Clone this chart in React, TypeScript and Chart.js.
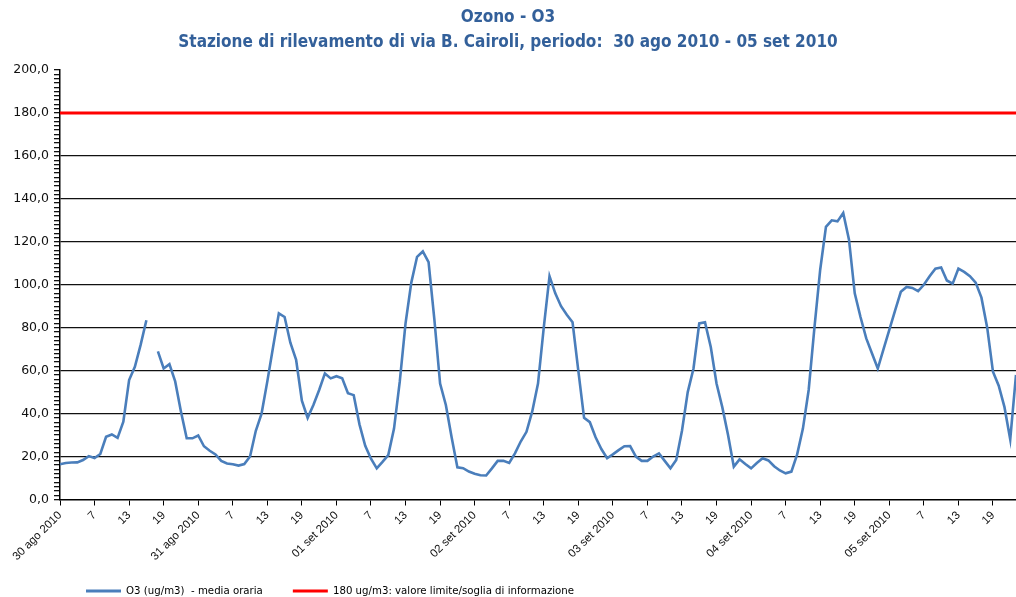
import React, { useEffect, useRef } from 'react';
import { Chart, registerables } from 'chart.js';

Chart.register(...registerables);

// ---- Data ----
const dayLabels = ['30 ago 2010', '31 ago 2010', '01 set 2010', '02 set 2010', '03 set 2010', '04 set 2010', '05 set 2010'];
const hourLabels = ['7', '13', '19'];

// Hourly O3 (ug/m3), one array per day (hour 1..24)
const day30ago = [16.4, 17, 17.2, 17.3, 18.4, 20.2, 19.3, 21.2, 29.2, 30.3, 28.7, 36.2, 55.6, 61.8, 72, 83.5, null, 69, 61, 63, 55, 41, 28.5, 28.5];
const day31ago = [29.8, 24.8, 22.7, 21, 18, 16.8, 16.4, 15.8, 16.5, 20, 32, 40, 55, 71, 86.7, 85, 73, 65, 46, 38, 44, 51, 58.7, 56.4];
const day01set = [57.4, 56.5, 49.5, 48.6, 35, 25, 19, 14.5, 17.5, 20.7, 33, 55, 82, 101, 113, 115.5, 110.5, 84, 54, 44, 29, 15, 14.6, 13];
const day02set = [12, 11.3, 11.2, 14.5, 18, 18, 17, 21.5, 27, 31.5, 41, 54, 80, 104, 96, 90, 86, 82.5, 60, 38, 36, 29, 23.5, 19.2];
const day03set = [21, 23, 24.8, 24.9, 20, 18, 18, 20, 21.5, 18, 14.5, 18.4, 32, 50, 61, 82, 82.5, 71, 54, 43, 30, 15.3, 18.7, 16.5];
const day04set = [14.5, 17, 19.2, 18.2, 15.5, 13.5, 12.2, 13, 21, 33, 51, 80, 107, 127, 130, 129.5, 133.4, 121, 96, 85, 75, 68, 61, 70];
const day05set = [79, 88, 96.7, 99, 98.5, 97, 100, 104, 107.5, 108, 102, 100.5, 107.5, 106, 104, 101, 94, 80, 59.5, 53, 43, 28, 58];

const o3Values: (number | null)[] = [...day30ago, ...day31ago, ...day01set, ...day02set, ...day03set, ...day04set, ...day05set];
const thresholdValue = 180;

const o3Label = 'O3 (ug/m3)  - media oraria';
const thresholdLabel = '180 ug/m3: valore limite/soglia di informazione';
const titleLines = ['Ozono - O3', 'Stazione di rilevamento di via B. Cairoli, periodo:  30 ago 2010 - 05 set 2010'];

const categoryLabels: string[] = o3Values.map((_, i) => {
  const h = i % 24;
  const d = Math.floor(i / 24);
  if (h === 0) return dayLabels[d];
  if (h % 6 === 0) return hourLabels[h / 6 - 1];
  return '';
});

const LEGEND_FONT = 10.2;
const LEGEND_PAD = 30;

// place the legend row: first swatch at x=86, text centred at y=591
const legendShift = {
  id: 'legendShift',
  afterLayout(chart: any) {
    const lg = chart.legend;
    if (lg) {
      const w = lg.right - lg.left;
      lg.left = 86 - LEGEND_PAD;
      lg.right = lg.left + w;
      lg.top = 591 - LEGEND_FONT / 2 - LEGEND_PAD;
      lg.bottom = chart.height + 20;
      lg.height = lg.bottom - lg.top;
    }
  },
};

export default function App() {
  const canvasRef = useRef<HTMLCanvasElement | null>(null);

  useEffect(() => {
    if (!canvasRef.current) return;
    const chart = new Chart(canvasRef.current, {
      type: 'line',
      data: {
        labels: categoryLabels,
        datasets: [
          {
            label: o3Label,
            data: o3Values,
            borderColor: '#4A7EBB',
            backgroundColor: '#4A7EBB',
            borderWidth: 2.6,
            pointRadius: 0,
            tension: 0,
            spanGaps: false,
          },
          {
            label: thresholdLabel,
            data: categoryLabels.map(() => thresholdValue),
            borderColor: '#FF0000',
            backgroundColor: '#FF0000',
            borderWidth: 3,
            pointRadius: 0,
            tension: 0,
          },
        ],
      },
      plugins: [legendShift],
      options: {
        animation: false,
        responsive: true,
        maintainAspectRatio: false,
        layout: { padding: 0 },
        plugins: {
          title: {
            display: true,
            text: titleLines,
            color: '#33609A',
            font: { family: 'DejaVu Sans Condensed', weight: 'bold', size: 17, lineHeight: 25 / 17 },
            padding: { top: 5, bottom: 15 },
          },
          legend: {
            display: true,
            position: 'bottom',
            align: 'start',
            maxHeight: 30,
            labels: {
              boxWidth: 35,
              boxHeight: 3,
              padding: LEGEND_PAD,
              color: '#000',
              font: { family: 'DejaVu Sans', size: LEGEND_FONT },
              generateLabels: (chart: any) => {
                const items = (Chart.defaults.plugins.legend.labels as any).generateLabels(chart);
                return items.map((it: any) => ({ ...it, lineWidth: 0, fillStyle: it.strokeStyle }));
              },
            },
          },
          tooltip: { enabled: false },
        },
        scales: {
          x: {
            type: 'category',
            offset: false,
            afterFit: (scale: any) => {
              scale.height = 67.5;
              scale.paddingLeft = 0;
              scale.paddingRight = 0;
            },
            grid: {
              drawOnChartArea: false,
              drawTicks: true,
              tickLength: 6,
              tickColor: (ctx: any) => (ctx.index % 6 === 0 ? '#000' : 'rgba(0,0,0,0)'),
            },
            border: { color: '#000', width: 1.5 },
            ticks: {
              autoSkip: false,
              maxRotation: 45,
              minRotation: 45,
              padding: 3,
              color: '#111',
              font: { family: 'Liberation Sans', size: 11.5 },
            },
          },
          y: {
            min: 0,
            max: 200,
            afterFit: (scale: any) => {
              scale.width = 60;
            },
            grid: {
              drawTicks: true,
              tickLength: 6,
              lineWidth: 1.3,
              color: (ctx: any) => {
                const v = ctx.tick ? Math.round(ctx.tick.value) : -1;
                return v % 20 === 0 && v !== 200 && v !== 0 ? '#111' : 'rgba(0,0,0,0)';
              },
              tickColor: '#111',
            },
            border: { color: '#000', width: 1.5 },
            ticks: {
              stepSize: 2,
              autoSkip: false,
              padding: 5,
              color: '#111',
              font: { family: 'DejaVu Sans', size: 12.5 },
              callback: (v: any) => {
                const n = Math.round(Number(v));
                return n % 20 === 0 ? n.toFixed(1).replace('.', ',') : '';
              },
            },
          },
        },
      },
    } as any);
    return () => chart.destroy();
  }, []);

  return (
    <div style={{ position: 'fixed', left: 0, top: 0, width: 1016, height: 597, overflow: 'hidden', background: '#fff' }}>
      <div style={{ position: 'relative', width: 1016, height: 597 }}>
        <canvas ref={canvasRef} />
      </div>
    </div>
  );
}
